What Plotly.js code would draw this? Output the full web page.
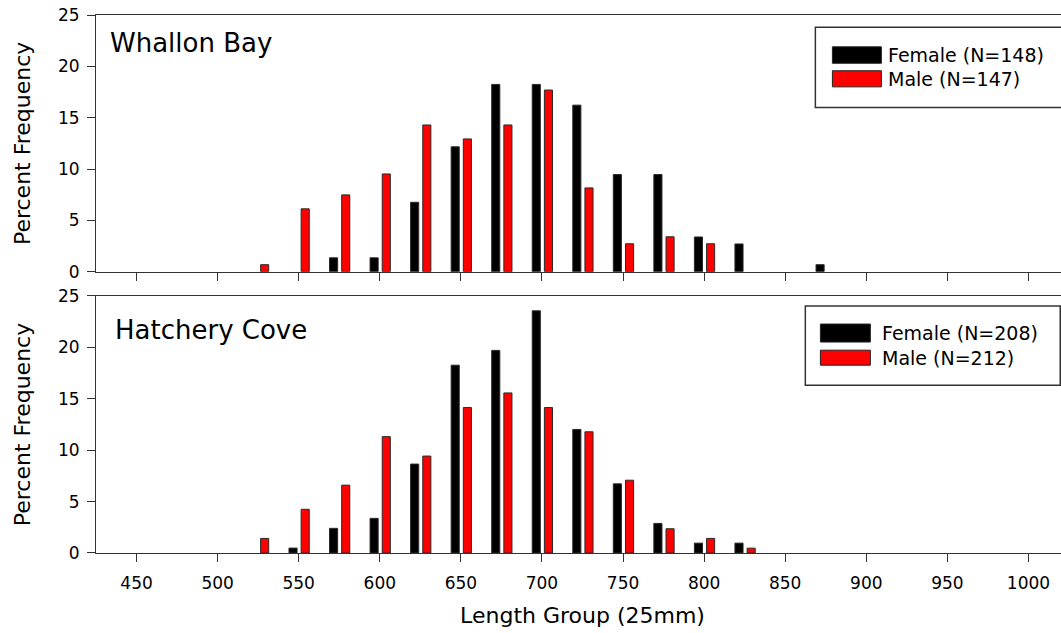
<!DOCTYPE html>
<html>
<head>
<meta charset="utf-8">
<script src="https://cdn.plot.ly/plotly-3.0.1.min.js"></script>
<style>
html,body{margin:0;padding:0;overflow:hidden;background:#fff}
#chart{width:1080px;height:633px}
</style>
</head>
<body>
<div id="chart"></div>
<script>
// Length groups (mm, 25 mm bins)
const lengthGroups = [525, 550, 575, 600, 625, 650, 675, 700, 725, 750, 775, 800, 825, 850, 875];

// Whallon Bay percent frequency
const whallonFemale = [null, null, 1.35, 1.35, 6.76, 12.16, 18.24, 18.24, 16.22, 9.46, 9.46, 3.38, 2.70, null, 0.68];
const whallonMale   = [0.68, 6.12, 7.48, 9.52, 14.29, 12.93, 14.29, 17.69, 8.16, 2.72, 3.40, 2.72, null, null, null];

// Hatchery Cove percent frequency
const hatcheryFemale = [null, 0.48, 2.40, 3.37, 8.65, 18.27, 19.71, 23.56, 12.02, 6.73, 2.88, 0.96, 0.96, null, null];
const hatcheryMale   = [1.42, 4.25, 6.60, 11.32, 9.43, 14.15, 15.57, 14.15, 11.79, 7.08, 2.36, 1.42, 0.47, null, null];

// Labels
const panelTitles = ["Whallon Bay", "Hatchery Cove"];
const whallonLegend = ["Female (N=148)", "Male (N=147)"];
const hatcheryLegend = ["Female (N=208)", "Male (N=212)"];
const xTickVals = [450, 500, 550, 600, 650, 700, 750, 800, 850, 900, 950, 1000];
const yTickVals = [0, 5, 10, 15, 20, 25];

const FONT = "DejaVu Sans";
const LINE = "#333333";
const femaleColor = "#000000";
const maleColor = "#ff0000";

function barTrace(y, xa, ya, color, offset) {
  return {
    type: "bar", x: lengthGroups, y: y, xaxis: xa, yaxis: ya,
    width: 5, offset: offset,
    marker: {color: color, line: {color: "#2a2a2a", width: 1}},
    showlegend: false, hoverinfo: "x+y"
  };
}

const data = [
  barTrace(whallonFemale, "x", "y", femaleColor, -6),
  barTrace(whallonMale, "x", "y", maleColor, 1.5),
  barTrace(hatcheryFemale, "x2", "y2", femaleColor, -6),
  barTrace(hatcheryMale, "x2", "y2", maleColor, 1.5)
];

const xBase = {
  range: [425, 1025], tickvals: xTickVals, ticks: "outside", ticklen: 8, tickwidth: 1,
  tickcolor: LINE, showline: true, linecolor: LINE, linewidth: 1, mirror: true,
  showgrid: false, zeroline: false, fixedrange: true, ticklabelstandoff: 7,
  tickfont: {family: FONT, size: 17, color: "#000"}
};
const yBase = {
  range: [0, 25], tickvals: yTickVals, ticks: "outside", ticklen: 8, tickwidth: 1,
  tickcolor: LINE, showline: true, linecolor: LINE, linewidth: 1, mirror: true,
  showgrid: false, zeroline: false, fixedrange: true, ticklabelstandoff: 4,
  tickfont: {family: FONT, size: 17, color: "#000"},
  title: {text: "Percent Frequency", font: {family: FONT, size: 22, color: "#000"}, standoff: 21}
};

function legendItems(labels, xref, yref, box, sym, textX, rows) {
  const shapes = [
    {type: "rect", xref: xref, yref: yref, x0: box[0], x1: box[1], y0: box[2], y1: box[3],
     line: {color: LINE, width: 1.5}, fillcolor: "#ffffff"},
    {type: "rect", xref: xref, yref: yref, x0: sym[0], x1: sym[1], y0: rows[0][0], y1: rows[0][1],
     line: {color: "#222", width: 1}, fillcolor: femaleColor},
    {type: "rect", xref: xref, yref: yref, x0: sym[0], x1: sym[1], y0: rows[1][0], y1: rows[1][1],
     line: {color: "#222", width: 1}, fillcolor: maleColor}
  ];
  const annos = labels.map((t, i) => ({
    xref: xref, yref: yref, x: textX, y: (rows[i][0] + rows[i][1]) / 2,
    xanchor: "left", yanchor: "middle", text: t, showarrow: false,
    font: {family: FONT, size: 19, color: "#000"}
  }));
  return {shapes, annos};
}

const lg1 = legendItems(whallonLegend, "x", "y", [868.6, 1030, 16.0, 23.8], [879.1, 909.3],
  912.0, [[20.3, 21.9], [18.0, 19.57]]);
const lg2 = legendItems(hatcheryLegend, "x2", "y2", [862.4, 1019.6, 16.33, 24.02], [871.7, 902.5],
  908.7, [[20.52, 22.27], [18.27, 19.73]]);

const layout = {
  width: 1080, height: 633,
  margin: {l: 96, r: 11, t: 15, b: 80},
  paper_bgcolor: "#fff", plot_bgcolor: "#fff",
  barmode: "overlay",
  font: {family: FONT, color: "#000"},
  xaxis: Object.assign({}, xBase, {anchor: "y", domain: [0, 1], showticklabels: false}),
  yaxis: Object.assign({}, yBase, {anchor: "x", domain: [0.5229, 1]}),
  xaxis2: Object.assign({}, xBase, {anchor: "y2", domain: [0, 1], showticklabels: true,
    title: {text: "Length Group (25mm)", font: {family: FONT, size: 22, color: "#000"}, standoff: 15}}),
  yaxis2: Object.assign({}, yBase, {anchor: "x2", domain: [0, 0.4777]}),
  shapes: lg1.shapes.concat(lg2.shapes),
  annotations: [
    {xref: "x", yref: "y", x: 432.2, y: 22.3, xanchor: "left", yanchor: "middle", text: panelTitles[0],
     showarrow: false, font: {family: FONT, size: 26, color: "#000"}},
    {xref: "x2", yref: "y2", x: 435.2, y: 21.7, xanchor: "left", yanchor: "middle", text: panelTitles[1],
     showarrow: false, font: {family: FONT, size: 26, color: "#000"}}
  ].concat(lg1.annos, lg2.annos)
};

Plotly.newPlot("chart", data, layout, {displayModeBar: false, staticPlot: true});
</script>
</body>
</html>
